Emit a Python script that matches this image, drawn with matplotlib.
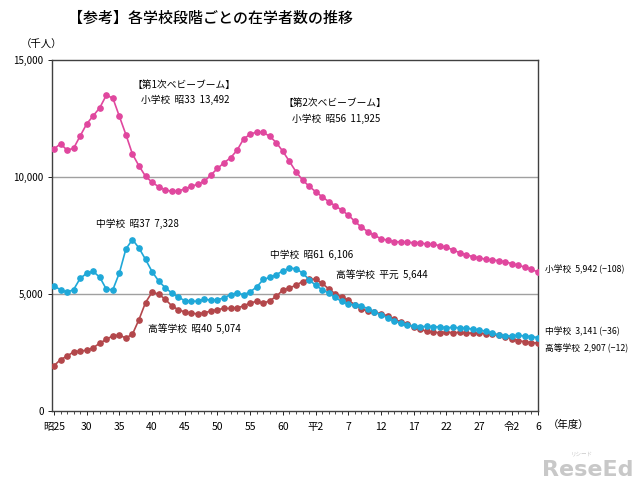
import matplotlib
matplotlib.use("Agg")
import matplotlib.pyplot as plt
import numpy as np

plt.rcParams['font.family'] = ['Noto Sans CJK JP', 'DejaVu Sans']

years = list(range(1950, 2025))

elementary = [11191, 11423, 11148, 11225, 11750, 12267, 12616, 12957, 13492, 13375,
              12591, 11811, 10978, 10472, 10031, 9776, 9584, 9452, 9384, 9403,
              9493, 9596, 9696, 9816, 10089, 10365, 10610, 10819, 11147, 11630,
              11827, 11925, 11902, 11739, 11465, 11095, 10666, 10226, 9873, 9607,
              9373, 9157, 8947, 8768, 8583, 8370, 8106, 7855, 7664, 7500,
              7366, 7297, 7239, 7227, 7201, 7197, 7188, 7133, 7122, 7064,
              6993, 6887, 6765, 6677, 6601, 6543, 6484, 6449, 6428, 6369,
              6301, 6223, 6151, 6050, 5942]

junior = [5333, 5188, 5076, 5187, 5664, 5884, 5962, 5718, 5210, 5180,
          5900, 6924, 7328, 6964, 6476, 5957, 5556, 5271, 5044, 4865,
          4717, 4694, 4688, 4779, 4735, 4762, 4833, 4978, 5048, 4966,
          5094, 5300, 5623, 5707, 5828, 5990, 6106, 6081, 5896, 5619,
          5369, 5188, 5036, 4851, 4681, 4570, 4528, 4481, 4380, 4244,
          4104, 3992, 3863, 3748, 3664, 3626, 3602, 3615, 3592, 3600,
          3558, 3574, 3553, 3536, 3504, 3465, 3406, 3333, 3252, 3218,
          3211, 3229, 3205, 3177, 3141]

high = [1935, 2194, 2344, 2528, 2565, 2592, 2702, 2898, 3057, 3216,
        3239, 3119, 3282, 3909, 4634, 5074, 4997, 4776, 4499, 4330,
        4232, 4178, 4150, 4201, 4270, 4333, 4386, 4381, 4414, 4485,
        4622, 4682, 4601, 4717, 4896, 5178, 5259, 5375, 5533, 5644,
        5623, 5455, 5218, 5010, 4862, 4725, 4547, 4371, 4258, 4212,
        4165, 4062, 3929, 3810, 3720, 3605, 3495, 3407, 3367, 3347,
        3369, 3349, 3355, 3320, 3334, 3319, 3309, 3280, 3236, 3168,
        3093, 3008, 2957, 2919, 2907]

tick_years = [1950, 1955, 1960, 1965, 1970, 1975, 1980, 1985, 1990, 1995,
              2000, 2005, 2010, 2015, 2020, 2024]
tick_labels = ['昭25', '30', '35', '40', '45', '50', '55', '60', '平2', '7',
               '12', '17', '22', '27', '令2', '6']

c_el = '#E0479E'
c_jr = '#1FA8D8'
c_hs = '#B3474B'

fig = plt.figure(figsize=(6.4, 4.88), dpi=100)
ax = fig.add_axes([52/640, 1-411/488, (538-52)/640, (411-60)/488])

ax.plot(years, elementary, color=c_el, lw=1.2, marker='o', ms=3.8, zorder=3)
ax.plot(years, high, color=c_hs, lw=1.2, marker='o', ms=3.8, zorder=3)
ax.plot(years, junior, color=c_jr, lw=1.2, marker='o', ms=3.8, zorder=4)

ax.set_xlim(1949.7, 2024.0)
ax.set_ylim(0, 15000)
ax.set_yticks([0, 5000, 10000, 15000])
ax.set_yticklabels(['0', '5,000', '10,000', '15,000'], fontsize=7)
ax.set_xticks(tick_years)
ax.set_xticklabels(tick_labels, fontsize=7.5)
ax.set_xticks(years, minor=True)
ax.tick_params(axis='x', which='major', length=3, width=0.6, pad=5)
ax.tick_params(axis='x', which='minor', length=2, width=0.5)
ax.tick_params(axis='y', length=3, width=0.6, pad=3)
for y in [5000, 10000]:
    ax.axhline(y, color='#A0A0A0', lw=1.0, zorder=1)
for s in ax.spines.values():
    s.set_color('#404040')
    s.set_linewidth(1.0)

fs = 7
def px(xp, yp):
    return 1950 + (xp - 54) / 6.54, (411 - yp) / 0.0234

annots = [
    (133, 85, '【第1次ベビーブーム】'),
    (141, 100, '小学校  昭33  13,492'),
    (284, 103, '【第2次ベビーブーム】'),
    (292, 119, '小学校  昭56  11,925'),
    (96, 224, '中学校  昭37  7,328'),
    (148, 329, '高等学校  昭40  5,074'),
    (270, 255, '中学校  昭61  6,106'),
    (336, 275, '高等学校  平元  5,644'),
]
for xp, yp, t in annots:
    x, y = px(xp, yp)
    ax.text(x, y, t, fontsize=fs, ha='left', va='center', zorder=5)

right = [(269, '小学校  5,942 (−108)'), (331, '中学校  3,141 (−36)'), (348, '高等学校  2,907 (−12)')]
for yp, t in right:
    fig.text(545/640, 1-yp/488, t, fontsize=6.3, ha='left', va='center')

fig.text(210/640, 1-18/488, '【参考】各学校段階ごとの在学者数の推移', fontsize=10.8,
         ha='center', va='center', fontweight='medium')
fig.text(42/640, 1-45/488, '（千人）', fontsize=7.5, ha='center', va='center')
fig.text(548/640, 1-425/488, '（年度）', fontsize=7.5, ha='left', va='center')

fig.text(633/640, 1-470/488, 'ReseEd', fontsize=16, fontweight='bold', color='#C8C8C8',
         ha='right', va='center', family='DejaVu Sans')
fig.text(582/640, 1-454/488, 'リシード', fontsize=4, color='#C8C8C8', ha='center', va='center')

fig.savefig('out.png', dpi=100)
